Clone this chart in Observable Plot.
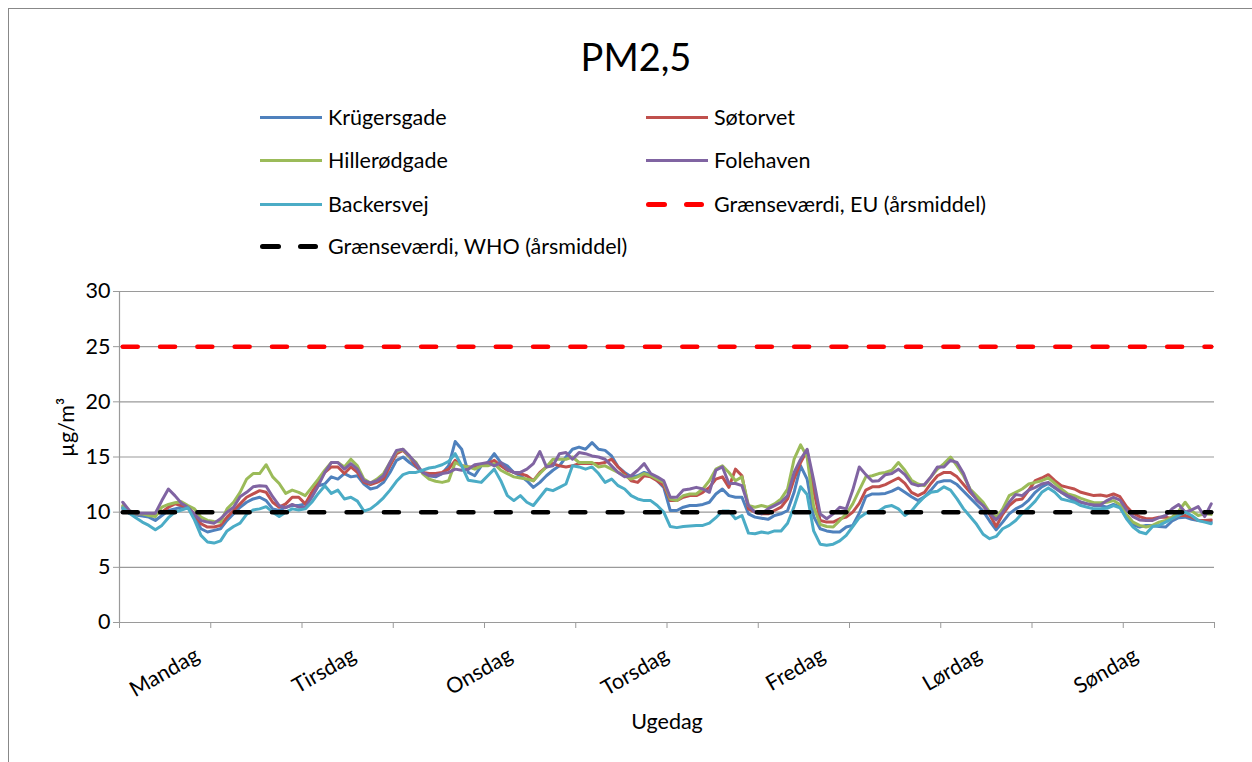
<!DOCTYPE html>
<html><head><meta charset="utf-8">
<script src="https://cdn.jsdelivr.net/npm/d3@7"></script>
<script src="https://cdn.jsdelivr.net/npm/@observablehq/plot@0.6"></script>
<style>
body{margin:0;background:#fff;font-family:Lato,sans-serif;color:#000;}
#wrap{position:relative;width:1252px;height:762px;overflow:hidden;background:#fff;}
#frame{position:absolute;left:8px;top:8px;width:1300px;height:800px;border:1px solid #888;box-sizing:border-box;}
#title{position:absolute;left:0;width:1272px;top:33px;text-align:center;font-size:38px;line-height:46px;}
.lt{position:absolute;font-size:21.5px;line-height:26px;white-space:nowrap;}
.sw{position:absolute;height:3px;}
.dash{position:absolute;height:5px;border-radius:3px;}
#chart{position:absolute;left:0;top:270px;}
</style></head>
<body><div id="wrap"><div id="frame"></div><div id="title">PM2,5</div><div id="legend"></div><div id="chart"></div></div>
<script>
const stations = ["Krügersgade", "Søtorvet", "Hillerødgade", "Folehaven", "Backersvej"];
const stationColors = ["#4F81BD", "#C0504D", "#9BBB59", "#8064A2", "#4BACC6"];
const limitNames = ["Grænseværdi, EU (årsmiddel)", "Grænseværdi, WHO (årsmiddel)"];
const limitColors = ["#FF0000", "#000000"];
const euLimit = 25;
const whoLimit = 10;
const days = ["Mandag", "Tirsdag", "Onsdag", "Torsdag", "Fredag", "Lørdag", "Søndag"];
const yTicks = [0, 5, 10, 15, 20, 25, 30];
const xLabel = "Ugedag";
const yLabel = "µg/m³";

// hourly values, Monday 00 .. Sunday 23
const krugersgade = [
10.3,9.9,9.75,9.65,9.55,9.25,9.7,10.15,10.3,10.45,10.45,9.55,8.5,8.2,8.35,8.5,9.25,9.85,10.45,10.9,11.2,11.35,11.05,10.3,
10.15,10.45,10.6,10.6,10.75,11.5,12.4,12.55,13.2,13.0,13.5,13.2,13.3,12.55,12.1,12.25,12.7,13.6,14.7,15.0,14.5,14.1,13.6,13.3,
13.2,13.5,14.2,16.4,15.7,13.6,13.3,14.2,14.5,15.3,14.5,14.2,13.6,13.3,12.85,12.25,12.7,13.3,13.8,14.2,15.0,15.7,15.9,15.7,
16.3,15.7,15.6,15.1,14.1,13.6,13.2,13.3,13.6,13.4,12.85,12.25,10.15,10.15,10.45,10.6,10.6,10.7,10.9,11.65,12.1,11.5,11.35,11.35,
9.85,9.55,9.45,9.35,9.7,9.85,10.15,11.8,14.2,13.0,9.6,8.5,8.3,8.2,8.2,8.65,8.8,9.9,11.4,11.65,11.65,11.7,11.9,12.2,
11.8,11.4,11.05,11.4,12.0,12.7,12.85,12.85,12.5,11.9,11.3,10.7,10.1,9.2,8.4,9.1,9.85,10.3,10.6,11.1,11.8,12.3,12.6,12.2,
11.8,11.4,11.05,10.9,10.75,10.6,10.6,10.45,10.7,10.5,9.5,8.85,8.65,8.8,8.8,8.7,8.65,9.2,9.5,9.55,9.35,9.25,9.2,9.1];
const sotorvet = [
10.45,10.05,9.85,9.85,9.85,9.8,10.0,10.45,10.75,10.6,10.45,9.85,8.95,8.65,8.65,8.8,9.55,10.15,10.75,11.35,11.65,11.95,11.8,10.9,
10.45,10.75,11.35,11.35,10.75,11.8,12.7,13.6,14.1,14.1,13.5,14.1,13.6,12.7,12.5,12.7,13.0,14.2,15.3,15.6,15.0,14.2,13.6,13.5,
13.5,13.6,13.9,14.7,14.2,14.1,14.1,14.3,14.4,14.7,14.2,13.8,13.6,13.5,13.3,12.85,13.6,14.1,14.4,14.2,14.1,14.2,14.4,14.4,
14.4,14.4,14.5,14.8,14.1,13.5,12.85,12.7,13.3,13.2,12.85,12.4,11.05,11.05,11.35,11.5,11.5,11.8,12.25,13.0,13.2,12.25,13.9,13.3,
10.3,10.0,9.85,9.85,10.15,10.45,11.2,13.0,14.5,15.6,12.0,9.25,9.1,9.1,9.4,9.55,10.0,10.8,12.0,12.3,12.3,12.5,12.8,13.1,
12.6,11.8,11.5,11.8,12.6,13.3,13.6,13.6,13.2,12.5,11.8,11.2,10.6,9.8,8.7,9.8,10.6,11.1,11.2,12.0,12.85,13.1,13.4,12.85,
12.4,12.25,12.1,11.8,11.65,11.5,11.55,11.45,11.65,11.4,10.5,9.9,9.6,9.4,9.4,9.55,9.55,9.4,9.7,9.7,9.55,9.25,9.25,9.3];
const hillerodgade = [
10.6,10.15,9.85,9.85,9.7,9.6,10.45,10.7,10.85,10.95,10.6,10.3,9.55,9.25,9.15,9.1,10.3,10.9,11.8,13.0,13.5,13.5,14.3,13.2,
12.6,11.7,12.0,11.8,11.5,12.25,13.0,13.8,14.5,14.5,14.1,14.8,14.2,13.0,12.65,13.0,13.5,14.5,15.5,15.7,15.0,14.5,13.5,13.0,
12.8,12.7,12.85,14.5,14.2,14.1,13.9,14.2,14.2,14.4,13.8,13.5,13.2,13.1,13.0,12.85,13.5,14.1,14.8,14.8,14.8,15.0,14.5,14.5,
14.5,14.1,14.2,13.9,13.6,13.3,13.0,13.2,13.5,13.3,13.0,12.7,11.2,11.05,11.5,11.65,11.65,12.1,12.85,13.9,14.2,13.6,12.85,13.2,
10.6,10.45,10.6,10.45,10.75,11.2,12.1,14.8,16.1,15.0,10.5,8.9,8.7,8.65,9.25,9.85,10.75,12.0,13.2,13.3,13.5,13.6,13.8,14.5,
13.8,12.9,12.55,12.4,13.2,13.9,14.4,15.0,14.2,13.3,12.1,11.5,10.9,10.0,9.5,10.3,11.5,11.8,12.1,12.55,12.7,12.85,13.1,12.6,
12.1,11.65,11.5,11.25,11.05,10.85,10.85,10.9,11.05,10.7,9.8,9.1,8.8,8.65,8.8,9.1,9.25,9.55,10.1,10.9,10.1,9.7,9.85,9.8];
const folehaven = [
10.9,10.15,9.9,9.9,9.9,9.9,11.05,12.1,11.5,10.8,10.45,9.8,9.25,9.1,9.0,9.4,10.0,10.45,11.4,11.8,12.3,12.4,12.35,11.4,
10.6,10.4,10.7,10.45,10.45,11.35,12.4,13.6,14.5,14.5,13.9,14.4,13.9,12.85,12.65,12.85,13.3,14.5,15.6,15.7,15.1,14.4,13.6,13.3,
13.3,13.5,13.6,13.9,13.8,13.9,14.3,14.4,14.5,14.2,14.5,13.9,13.6,13.6,13.9,14.4,15.5,14.1,14.2,15.3,15.4,14.8,15.4,15.3,
15.1,15.0,14.8,14.2,13.6,13.2,13.3,13.8,14.4,13.5,13.2,12.85,11.35,11.35,12.0,12.1,12.25,12.1,11.8,13.8,14.1,12.6,12.6,12.4,
10.6,10.0,9.85,10.3,10.6,10.9,11.5,13.6,14.8,15.7,12.9,9.85,9.4,9.85,10.45,10.3,12.0,14.1,13.4,12.8,12.85,13.4,13.5,13.9,
13.4,12.6,12.4,12.5,13.2,14.1,14.1,14.7,14.5,13.5,12.0,11.1,10.6,9.9,9.3,10.0,10.9,11.6,11.5,12.0,12.25,12.55,12.7,12.25,
11.8,11.5,11.25,10.9,10.75,10.65,10.65,11.05,11.35,11.1,10.2,9.6,9.3,9.25,9.25,9.5,9.7,10.3,10.7,10.0,10.2,10.5,9.6,10.75];
const backersvej = [
10.4,9.9,9.5,9.1,8.8,8.4,8.8,9.5,10.0,10.2,10.4,9.3,7.9,7.3,7.2,7.4,8.3,8.7,9.0,9.8,10.2,10.3,10.5,10.0,
9.6,10.0,10.3,10.2,10.3,10.9,11.7,12.4,11.7,12.0,11.2,11.35,11.0,10.1,10.3,10.75,11.3,12.0,12.8,13.4,13.6,13.6,13.8,14.0,
14.1,14.3,14.6,15.3,14.2,12.9,12.8,12.7,13.3,13.9,12.85,11.5,11.05,11.5,10.9,10.6,11.35,12.1,11.95,12.25,12.55,14.2,14.1,13.9,
14.1,13.5,12.7,13.0,12.4,12.1,11.5,11.2,11.05,11.05,10.6,10.0,8.7,8.6,8.7,8.75,8.8,8.8,9.0,9.5,10.1,10.1,9.4,9.7,
8.1,8.05,8.2,8.1,8.3,8.3,9.0,10.5,12.3,11.6,8.3,7.1,7.0,7.1,7.4,7.9,8.7,9.5,9.9,10.0,10.1,10.5,10.6,10.3,
9.7,10.1,10.8,11.4,11.8,11.9,12.3,12.0,11.2,10.3,9.6,8.9,8.0,7.6,7.8,8.5,8.8,9.25,9.9,10.4,11.0,11.8,12.2,11.8,
11.2,11.05,10.9,10.6,10.45,10.3,10.3,10.35,10.6,10.4,9.4,8.65,8.2,8.05,8.7,8.8,9.1,9.4,9.7,10.0,9.7,9.25,9.1,8.95];

const seriesValues = [krugersgade, sotorvet, hillerodgade, folehaven, backersvej];
const nHours = krugersgade.length;            // 168 hourly categories
const hours = d3.range(nHours);
const rows = [];
seriesValues.forEach((vals, s) => vals.forEach((v, h) => rows.push({station: stations[s], hour: h, value: v})));
const euRows = hours.map(h => ({hour: h, value: euLimit}));
const whoRows = hours.map(h => ({hour: h, value: whoLimit}));
const dayHours = days.map((d, i) => i * 24 + 12);
const xTicks = d3.range(-0.5, nHours + 0.5, 14);

// legend (HTML, above the SVG)
const legendItems = stations.map((s, i) => ({name: s, color: stationColors[i], dashed: false}))
  .concat(limitNames.map((s, i) => ({name: s, color: limitColors[i], dashed: true})));
const legendRowsY = [117, 160, 204, 246];
const legendColX = [260, 646];
const legend = document.getElementById("legend");
legendItems.forEach((it, i) => {
  const cx = legendColX[i % 2], cy = legendRowsY[Math.floor(i / 2)];
  if (it.dashed) {
    [[0, 21], [38, 20]].forEach(([o, w]) => {
      const d = document.createElement("div");
      d.className = "dash";
      d.style.cssText = `left:${cx + o}px;top:${cy - 2.5}px;width:${w}px;background:${it.color}`;
      legend.appendChild(d);
    });
  } else {
    const d = document.createElement("div");
    d.className = "sw";
    d.style.cssText = `left:${cx}px;top:${cy - 1.5}px;width:62px;background:${it.color}`;
    legend.appendChild(d);
  }
  const t = document.createElement("div");
  t.className = "lt";
  t.textContent = it.name;
  t.style.left = (cx + 68) + "px";
  t.style.top = (cy - 13) + "px";
  legend.appendChild(t);
});

const chart = Plot.plot({
  width: 1252, height: 492,
  marginLeft: 119, marginRight: 38, marginTop: 21, marginBottom: 140,
  style: {fontFamily: "Lato, sans-serif", fontSize: "21.5px", color: "#000", background: "transparent", overflow: "visible"},
  x: {domain: [-0.5, nHours - 0.5], axis: null},
  y: {domain: [0, 30], axis: null},
  color: {domain: stations, range: stationColors},
  marks: [
    Plot.gridY(yTicks, {stroke: "#9a9a9a", strokeOpacity: 1, strokeWidth: 1.2}),
    Plot.ruleX([-0.5], {stroke: "#9a9a9a", strokeWidth: 1.2}),
    Plot.axisY(yTicks, {tickSize: 6, tickPadding: 3, stroke: "#9a9a9a", fontSize: 21.5, label: null}),
    Plot.axisX(xTicks, {tickSize: 6, stroke: "#9a9a9a", tickFormat: () => "", label: null}),
    Plot.text(days, {x: dayHours, frameAnchor: "bottom", textAnchor: "end", rotate: -30, dy: 37, dx: 0, fontSize: 21.5}),
    Plot.text([xLabel], {frameAnchor: "bottom", dy: 106, fontSize: 21.5}),
    Plot.text([yLabel], {frameAnchor: "left", rotate: -90, dx: -52, fontSize: 21.5}),
    Plot.line(rows, {x: "hour", y: "value", z: "station", stroke: "station", strokeWidth: 3, strokeLinejoin: "round"}),
    Plot.line(euRows, {x: "hour", y: "value", stroke: limitColors[0], strokeWidth: 4.5, strokeDasharray: "15,22.3", strokeLinecap: "round"}),
    Plot.line(whoRows, {x: "hour", y: "value", stroke: limitColors[1], strokeWidth: 4.5, strokeDasharray: "15,22.3", strokeLinecap: "round"})
  ]
});
document.getElementById("chart").appendChild(chart);
</script></body></html>
